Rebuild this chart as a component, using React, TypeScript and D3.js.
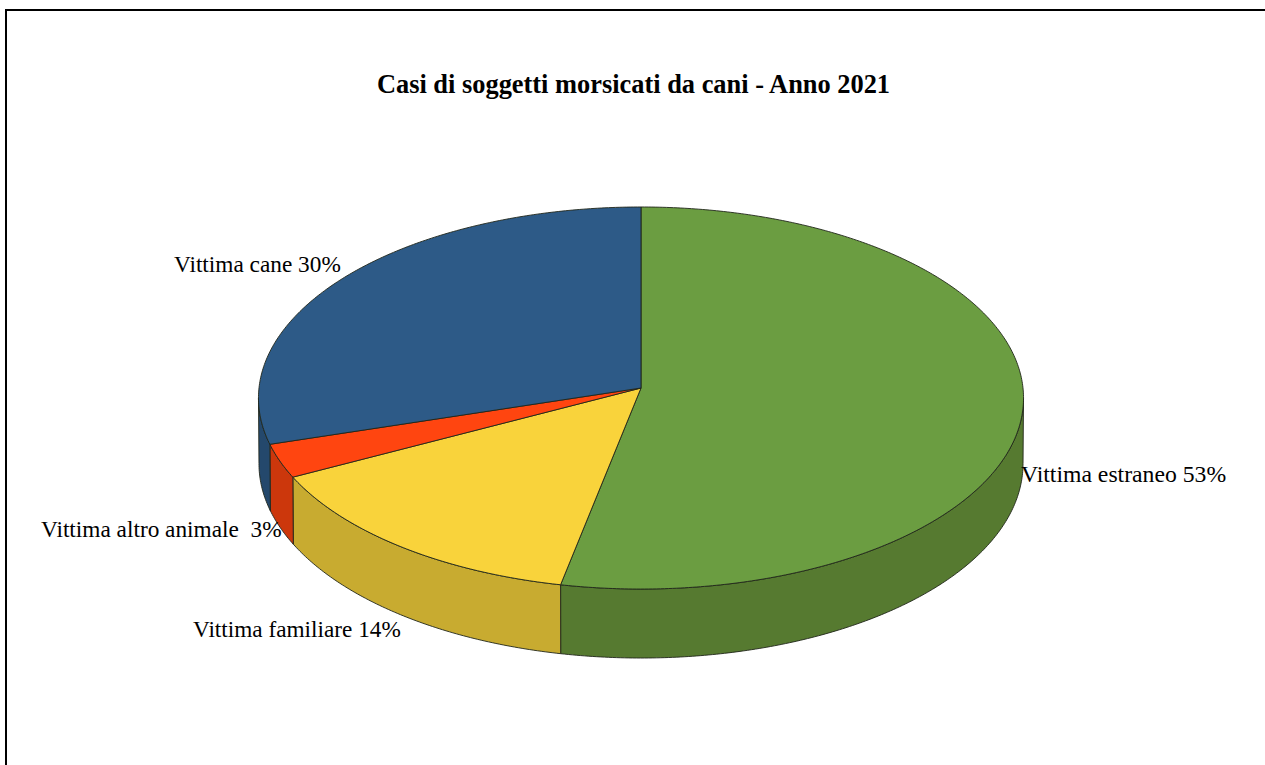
import React from "react";
import * as d3 from "d3";

const categories = ["Vittima estraneo", "Vittima familiare", "Vittima altro animale", "Vittima cane"];
const sliceValues = [53.2, 14.25, 2.85, 29.7];
const labelTexts = ["Vittima estraneo 53%", "Vittima familiare 14%", "Vittima altro animale  3%", "Vittima cane 30%"];
const topColors = ["#6B9D41", "#F9D33B", "#FF4510", "#2D5A87"];
const sideColors = ["#567A30", "#C8AB30", "#CC370C", "#24486C"];
const labelX = [1021, 193, 41, 174];
const labelY = [482, 637, 537, 272];
const labelSize = [23.7, 23.25, 23.3, 23.3];
const title = "Casi di soggetti morsicati da cani - Anno 2021";

const P = 0.0524;
const CX = 641;
const top = { cy: 388, rx: 382, ry: 190.5 };
const bottom = { cy: 453.5, rx: 381.5, ry: 193.8 };
const project = (d: { cy: number; rx: number; ry: number }, a: number): [number, number] => {
  const u = Math.sin(a), v = -Math.cos(a), w = 1 - P * v;
  return [CX + (d.rx * u) / w, d.cy + (d.ry * v) / w];
};
const arcAngles = (a0: number, a1: number) => {
  const n = Math.max(2, Math.ceil(Math.abs(a1 - a0) / 0.01));
  return d3.range(n + 1).map((i) => a0 + ((a1 - a0) * i) / n);
};
const line = d3.line<[number, number]>().curve(d3.curveLinear);
const SIDE_START = (93 * Math.PI) / 180;
const SIDE_END = (267 * Math.PI) / 180;
const EDGE = "#20261a";

export default function App() {
  const arcs = d3.pie<number>().sort(null)(sliceValues);
  return (
    <svg width={1265} height={765} style={{ position: "absolute", left: 0, top: 0, display: "block", background: "#fff" }}
      fontFamily="'Liberation Serif', serif">
      <path d="M6 765V10H1265" fill="none" stroke="#000" strokeWidth={2} />
      <text x={633.5} y={93} textAnchor="middle" fontSize={26.4} fontWeight="bold">{title}</text>
      {arcs.map((s, i) => {
        const a0 = Math.max(s.startAngle, SIDE_START), a1 = Math.min(s.endAngle, SIDE_END);
        if (a1 <= a0) return null;
        const as = arcAngles(a0, a1);
        const pts = [...as.map((a) => project(top, a)), ...as.slice().reverse().map((a) => project(bottom, a))];
        return <path key={"s" + i} d={line(pts) + "Z"} fill={sideColors[i]} stroke={EDGE} strokeWidth={0.9} strokeLinejoin="round" />;
      })}
      {arcs.map((s, i) => {
        const pts: [number, number][] = [[CX, top.cy], ...arcAngles(s.startAngle, s.endAngle).map((a) => project(top, a))];
        return <path key={"t" + i} d={line(pts) + "Z"} fill={topColors[i]} stroke={EDGE} strokeWidth={0.9} strokeLinejoin="round" />;
      })}
      {categories.map((c, i) => (
        <text key={c} x={labelX[i]} y={labelY[i]} fontSize={labelSize[i]} fill="#000" style={{ whiteSpace: "pre" }}>{labelTexts[i]}</text>
      ))}
    </svg>
  );
}
